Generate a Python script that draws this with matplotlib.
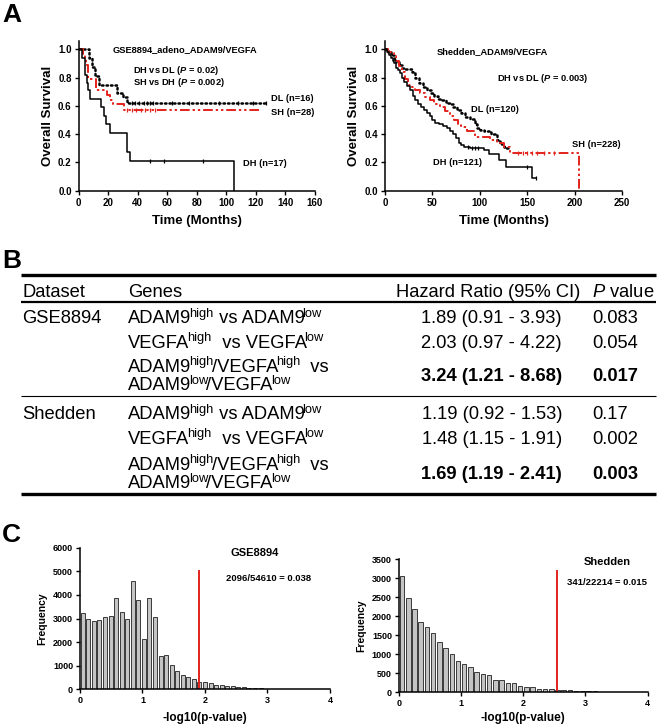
import numpy as np
import matplotlib
matplotlib.use('Agg')
import matplotlib.pyplot as plt
from matplotlib.ticker import FormatStrFormatter, MultipleLocator

plt.rcParams['font.family'] = ['Liberation Sans', 'DejaVu Sans']
plt.rcParams['mathtext.fontset'] = 'custom'
plt.rcParams['mathtext.rm'] = 'Liberation Sans'
plt.rcParams['mathtext.it'] = 'Liberation Sans:italic'
plt.rcParams['mathtext.bf'] = 'Liberation Sans:bold'
try:
    plt.rcParams['mathtext.bfit'] = 'Liberation Sans:italic:bold'
except KeyError:
    pass

# ---------------- Panel A data: GSE8894 ----------------
gse_dh_t = [0, 2, 4, 5.4, 6.5, 8, 15, 17, 18.5, 21, 32.5, 35, 105]
gse_dh_s = [1.0, 0.94, 0.82, 0.76, 0.71, 0.65, 0.59, 0.53, 0.47, 0.41, 0.27, 0.21, 0.0]
gse_dh_end = 105
gse_dh_cens = [48, 58, 84]

gse_dl_t = [0, 7, 9, 11, 14, 26, 30, 33]
gse_dl_s = [1.0, 0.9375, 0.875, 0.8125, 0.75, 0.6875, 0.66, 0.62]
gse_dl_end = 127.5
gse_dl_cens = [36, 38, 41, 44, 46, 48, 50, 63, 75, 95, 108, 118, 127]

gse_sh_t = [0, 3, 4, 5, 6, 12, 19, 21, 23, 31]
gse_sh_s = [1.0, 0.96, 0.93, 0.89, 0.79, 0.71, 0.68, 0.64, 0.61, 0.57]
gse_sh_end = 122
gse_sh_cens = [33, 36, 39, 42, 45, 48, 52]

# ---------------- Panel A data: Shedden ----------------
she_dl_t = [0, 3, 6, 9, 12, 15, 18, 20, 28, 32, 36, 40, 44, 48, 52, 56, 60, 64, 68,
            72, 76, 80, 84, 90, 95, 97, 100, 104, 112, 118, 121, 125, 128]
she_dl_s = [1.0, 0.98, 0.96, 0.93, 0.91, 0.89, 0.87, 0.86, 0.84, 0.80, 0.76, 0.73, 0.71,
            0.69, 0.67, 0.65, 0.64, 0.62, 0.61, 0.59, 0.57, 0.55, 0.52, 0.51, 0.47, 0.44,
            0.43, 0.42, 0.40, 0.36, 0.33, 0.31, 0.30]
she_dl_end = 133
she_dl_cens = []

she_dh_t = [0, 2, 4, 6, 8, 10, 12, 14, 16, 18, 20, 23, 26, 29, 32, 35, 38, 41, 44, 47,
            50, 53, 57, 61, 65, 69, 72, 75, 78, 80, 83, 90, 104, 110, 120, 128, 155]
she_dh_s = [1.0, 0.98, 0.96, 0.94, 0.92, 0.90, 0.87, 0.85, 0.83, 0.80, 0.77, 0.74, 0.71,
            0.67, 0.64, 0.61, 0.59, 0.57, 0.55, 0.53, 0.50, 0.48, 0.47, 0.46, 0.44, 0.42,
            0.40, 0.37, 0.34, 0.32, 0.31, 0.30, 0.29, 0.26, 0.22, 0.17, 0.09]
she_dh_end = 159
she_dh_cens = [88, 92, 95, 98, 150, 159]

she_sh_t = [0, 3, 6, 9, 12, 15, 18, 21, 24, 27, 32, 37, 42, 47, 52, 58, 63, 68, 73, 77,
            80, 86, 95, 111, 118, 125, 132, 204]
she_sh_s = [1.0, 0.98, 0.97, 0.95, 0.92, 0.88, 0.84, 0.79, 0.75, 0.73, 0.71, 0.69, 0.66,
            0.64, 0.61, 0.59, 0.56, 0.53, 0.50, 0.47, 0.45, 0.42, 0.38, 0.36, 0.335, 0.31,
            0.265, 0.0]
she_sh_end = 204
she_sh_cens = [140, 145, 150, 155, 160, 168, 178]

# ---------------- Panel B data ----------------
datasets = ['GSE8894', 'Shedden']
# each gene row: list of lines; each line: list of (text, is_superscript)
gene_rows = [
    [[('ADAM9', 0), ('high', 1), (' vs ADAM9', 0), ('low', 1)]],
    [[('VEGFA', 0), ('high', 1), ('  vs VEGFA', 0), ('low', 1)]],
    [[('ADAM9', 0), ('high', 1), ('/VEGFA', 0), ('high', 1), ('  vs', 0)],
     [('ADAM9', 0), ('low', 1), ('/VEGFA', 0), ('low', 1)]],
]
hr_gse = ['1.89 (0.91 - 3.93)', '2.03 (0.97 - 4.22)', '3.24 (1.21 - 8.68)']
p_gse = ['0.083', '0.054', '0.017']
hr_she = ['1.19 (0.92 - 1.53)', '1.48 (1.15 - 1.91)', '1.69 (1.19 - 2.41)']
p_she = ['0.17', '0.002', '0.003']
bold_rows = [False, False, True]

# ---------------- Panel C data ----------------
gse_hist = [3230, 2980, 2880, 2950, 3070, 3090, 3880, 3280, 3000, 4610, 3800, 2150,
            3850, 3070, 1420, 1450, 1050, 770, 600, 530, 450, 310, 300, 280, 200, 170,
            140, 130, 110, 90, 80, 70, 50, 40, 30, 30, 20, 20, 10, 10, 10, 10, 5, 5, 5]
gse_binw = 4 / 45
gse_cut = 1.9
gse_cut_top = 5000

she_hist = [3060, 2470, 2200, 1855, 1705, 1565, 1310, 1150, 1000, 810, 740, 650, 520,
            465, 440, 315, 310, 230, 230, 160, 140, 140, 90, 90, 70, 50, 45, 40, 30, 25,
            20, 15, 10, 10, 8, 6, 5, 4, 3, 2]
she_binw = 0.1
she_cut = 2.54
she_cut_top = 3200

RED = '#e3231c'

fig = plt.figure(figsize=(6.6, 7.25), dpi=100)
renderer = fig.canvas.get_renderer()


def style_axes(ax, fs):
    for s in ['top', 'right']:
        ax.spines[s].set_visible(False)
    for s in ['left', 'bottom']:
        ax.spines[s].set_linewidth(1.1)
    ax.tick_params(direction='out', length=3, width=1.0, pad=2, labelsize=fs)
    for lab in ax.get_xticklabels() + ax.get_yticklabels():
        lab.set_fontweight('bold')


def km(ax, t, s, end, cens, **kw):
    tt = np.append(np.asarray(t, float), end)
    ss = np.append(np.asarray(s, float), s[-1])
    ax.step(tt, ss, where='post', **kw)
    if len(cens):
        idx = np.searchsorted(np.asarray(t, float), cens, side='right') - 1
        ax.plot(cens, np.asarray(s)[idx], ls='none', marker='|', ms=3.5, mew=0.9,
                color=kw.get('color', 'k'))


dot_style = dict(color='black', lw=1.8, linestyle=(0, (0.6, 1.2)), dash_capstyle='round')
sh_style = dict(color=RED, lw=1.4, linestyle=(0, (5, 1.5, 1.2, 1.5, 1.2, 1.5)))
dh_style = dict(color='black', lw=1.1)

# ---- A left ----
axA1 = fig.add_axes([0.1192, 0.737, 0.358, 0.2058])
km(axA1, gse_dl_t, gse_dl_s, gse_dl_end, gse_dl_cens, **dot_style)
km(axA1, gse_sh_t, gse_sh_s, gse_sh_end, gse_sh_cens, **sh_style)
km(axA1, gse_dh_t, gse_dh_s, gse_dh_end, gse_dh_cens, **dh_style)
axA1.set_xlim(0, 160)
axA1.set_ylim(0, 1.055)
axA1.xaxis.set_major_locator(MultipleLocator(20))
axA1.yaxis.set_major_locator(MultipleLocator(0.2))
axA1.yaxis.set_major_formatter(FormatStrFormatter('%.1f'))
style_axes(axA1, 7)
axA1.set_xlabel('Time (Months)', fontsize=9.5, fontweight='bold', labelpad=5)
axA1.set_ylabel('Overall Survival', fontsize=9.5, fontweight='bold', labelpad=3)
tk = dict(fontsize=6.7, fontweight='bold', va='center', ha='left')
axA1.text(23, 1.0, 'GSE8894_adeno_ADAM9/VEGFA', **tk)
axA1.text(37, 0.85, r'DH vs DL ($\mathbfit{P}$ = 0.02)', **tk)
axA1.text(37, 0.765, r'SH vs DH ($\mathbfit{P}$ = 0.002)', **tk)
axA1.text(130, 0.65, 'DL (n=16)', **tk)
axA1.text(130, 0.55, 'SH (n=28)', **tk)
axA1.text(111, 0.19, 'DH (n=17)', **tk)

# ---- A right ----
axA2 = fig.add_axes([0.5833, 0.737, 0.3595, 0.2058])
km(axA2, she_dl_t, she_dl_s, she_dl_end, she_dl_cens, **dot_style)
km(axA2, she_sh_t, she_sh_s, she_sh_end, she_sh_cens, **sh_style)
km(axA2, she_dh_t, she_dh_s, she_dh_end, she_dh_cens, **dh_style)
axA2.set_xlim(0, 250)
axA2.set_ylim(0, 1.055)
axA2.xaxis.set_major_locator(MultipleLocator(50))
axA2.yaxis.set_major_locator(MultipleLocator(0.2))
axA2.yaxis.set_major_formatter(FormatStrFormatter('%.1f'))
style_axes(axA2, 7)
axA2.set_xlabel('Time (Months)', fontsize=9.5, fontweight='bold', labelpad=5)
axA2.set_ylabel('Overall Survival', fontsize=9.5, fontweight='bold', labelpad=3)
axA2.text(54, 0.983, 'Shedden_ADAM9/VEGFA', **tk)
axA2.text(117.6, 0.795, r'DH vs DL ($\mathbfit{P}$ = 0.003)', **tk)
axA2.text(91, 0.575, 'DL (n=120)', **tk)
axA2.text(196.6, 0.323, 'SH (n=228)', **tk)
axA2.text(51, 0.198, 'DH (n=121)', **tk)


# ---- C panels ----
def hist_panel(rect, heights, binw, cut, cut_top, ymax, ystep, title, ratio, t1, t2):
    ax = fig.add_axes(rect)
    centers = (np.arange(len(heights)) + 0.5) * binw
    ax.bar(centers, heights, width=binw * 0.72, color='#c4c4c4', edgecolor='#3a3a3a',
           linewidth=0.7)
    ax.plot([cut, cut], [0, cut_top], color=RED, lw=1.4)
    ax.set_xlim(0, 4)
    ax.set_ylim(0, ymax)
    ax.xaxis.set_major_locator(MultipleLocator(1))
    ax.yaxis.set_major_locator(MultipleLocator(ystep))
    style_axes(ax, 6.5)
    ax.set_ylabel('Frequency', fontsize=7.5, fontweight='bold', labelpad=4)
    ax.text(t1[0], t1[1], title, fontsize=8, fontweight='bold', ha='center', va='center')
    ax.text(t2[0], t2[1], ratio, fontsize=6.8, fontweight='bold', ha='center', va='center')
    return ax


axC1 = hist_panel([0.1212, 0.049, 0.3788, 0.1956], gse_hist, gse_binw, gse_cut, gse_cut_top,
                  6000, 1000, 'GSE8894', '2096/54610 = 0.038', (2.79, 5760), (3.01, 4710))
axC2 = hist_panel([0.6045, 0.0455, 0.3768, 0.183], she_hist, she_binw, she_cut, she_cut_top,
                  3500, 500, 'Shedden', '341/22214 = 0.015', (3.35, 3420), (3.35, 2880))

# ---- overlay axes in pixel coordinates: panel letters, table, C x-labels ----
axT = fig.add_axes([0, 0, 1, 1], zorder=-1)
axT.set_xlim(0, 660)
axT.set_ylim(725, 0)
axT.axis('off')

for letter, y in [('A', 15), ('B', 261), ('C', 535)]:
    axT.text(2, y, letter, fontsize=19, fontweight='bold', ha='left', va='center')

for cx in [205, 523]:
    axT.text(cx, 718, '-log10(p-value)', fontsize=8.5, fontweight='bold',
             ha='center', va='center')

x0, x1 = 21, 656
axT.plot([x0, x1], [275, 275], color='black', lw=2.4, solid_capstyle='butt')
axT.plot([x0, x1], [302, 302], color='black', lw=1.6, solid_capstyle='butt')
axT.plot([x0, x1], [396, 396], color='black', lw=0.8, solid_capstyle='butt')
axT.plot([x0, x1], [494, 494], color='black', lw=2.4, solid_capstyle='butt')

FS = 13.2
SUP_FS = 9.3
SUP_RAISE = 6.7
SUP_TIGHT = 2.0   # tighten spacing around superscripts (px)
BL = 6.4  # baseline offset from row center (px)


def seg_width(s, fs):
    a = axT.text(0, 0, 'X' + s + 'X', fontsize=fs)
    b = axT.text(0, 0, 'XX', fontsize=fs)
    w = a.get_window_extent(renderer).width - b.get_window_extent(renderer).width
    a.remove()
    b.remove()
    return w


def rich(x, ybase, segs):
    prev = None
    for txt, sup in segs:
        if prev is not None and prev != sup and not txt.startswith(' '):
            x -= SUP_TIGHT
        fs = SUP_FS if sup else FS
        yy = ybase - SUP_RAISE if sup else ybase
        axT.text(x, yy, txt, fontsize=fs, va='baseline', ha='left')
        x += seg_width(txt, fs)
        prev = sup


col_ds, col_gene, col_hr, col_p = 22, 128, 562, 592
axT.text(col_ds, 291 + BL, 'Dataset', fontsize=FS, va='baseline')
axT.text(col_gene, 291 + BL, 'Genes', fontsize=FS, va='baseline')
axT.text(396, 291 + BL, 'Hazard Ratio (95% CI)', fontsize=FS, va='baseline')
axT.text(col_p, 291 + BL, r'$\mathit{P}$ value', fontsize=FS, va='baseline')

blocks = [(datasets[0], [317, 341.5, 374.5], hr_gse, p_gse),
          (datasets[1], [413, 437.5, 472.5], hr_she, p_she)]
for name, ys, hrs, ps in blocks:
    axT.text(col_ds, ys[0] + BL, name, fontsize=FS, va='baseline')
    for i, y in enumerate(ys):
        lines = gene_rows[i]
        if len(lines) == 1:
            rich(col_gene, y + BL, lines[0])
        else:
            rich(col_gene, y - 9.3 + BL, lines[0])
            rich(col_gene, y + 9.3 + BL, lines[1])
        w = 'bold' if bold_rows[i] else 'normal'
        axT.text(col_hr, y + BL, hrs[i], fontsize=FS, va='baseline', ha='right', fontweight=w)
        axT.text(col_p, y + BL, ps[i], fontsize=FS, va='baseline', ha='left', fontweight=w)

fig.savefig('out.png', dpi=100)
